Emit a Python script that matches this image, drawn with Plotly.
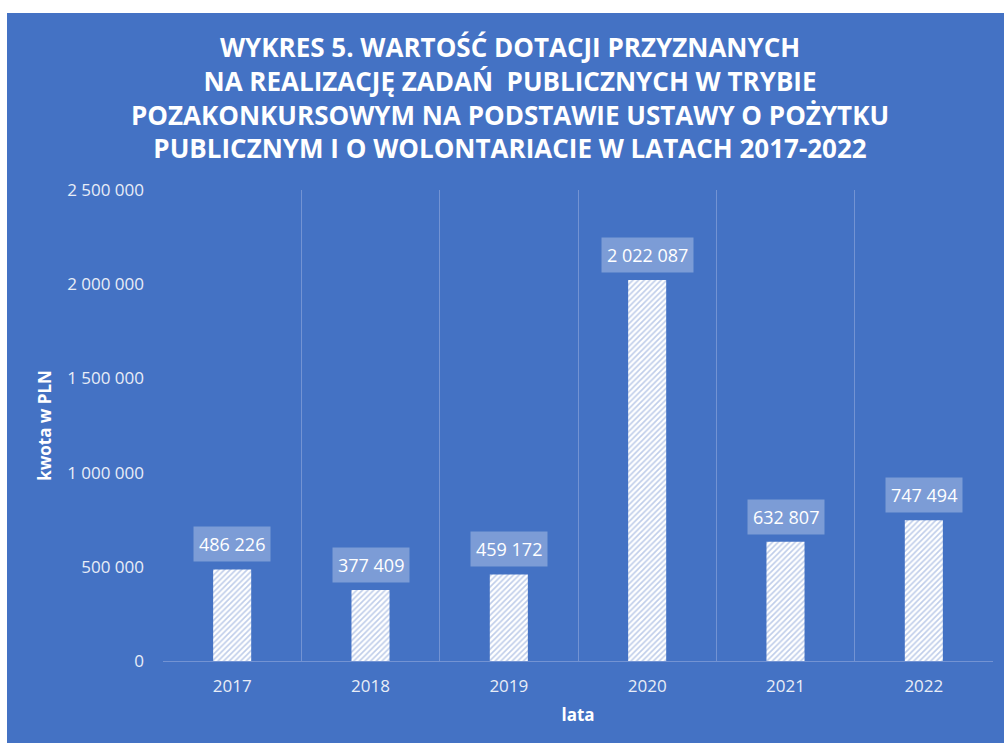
import plotly.graph_objects as go

years = ["2017", "2018", "2019", "2020", "2021", "2022"]
values = [486226, 377409, 459172, 2022087, 632807, 747494]
y_ticks = [0, 500000, 1000000, 1500000, 2000000, 2500000]
title_lines = [
    "WYKRES 5. WARTOŚĆ DOTACJI PRZYZNANYCH",
    "NA REALIZACJĘ ZADAŃ  PUBLICZNYCH W TRYBIE",
    "POZAKONKURSOWYM NA PODSTAWIE USTAWY O POŻYTKU",
    "PUBLICZNYM I O WOLONTARIACIE W LATACH 2017-2022",
]

BLUE = "#4472C4"
GRID = "#7393d3"
FONT = "Open Sans"
W, H = 1004, 743

def fmt(v):
    return f"{v:,}".replace(",", " ")

fig = go.Figure()
fig.add_trace(go.Bar(
    x=years, y=values,
    marker=dict(
        color="white",
        line=dict(width=0),
        pattern=dict(shape="/", bgcolor="white", fgcolor="#7f9bd4", size=4, solidity=0.4),
    ),
    width=0.275,
    hoverinfo="x+y",
))

for i, v in enumerate(values):
    fig.add_annotation(
        x=i, y=v, xref="x", yref="y", text=fmt(v), showarrow=False,
        yanchor="bottom", yshift=7,
        font=dict(family=FONT, size=18, color="white"),
        bgcolor="rgba(255,255,255,0.3)", borderpad=5,
    )

ml, mr, mt, mb = 163, 11, 190, 82
pw, ph = W - ml - mr, H - mt - mb
fig.add_shape(type="rect", xref="paper", yref="paper",
              x0=-(ml - 7) / pw, x1=1 + (mr + 20) / pw,
              y0=-(mb + 20) / ph, y1=1 + (mt - 13) / ph,
              fillcolor=BLUE, line=dict(width=0), layer="below")

fig.update_layout(
    width=W, height=H,
    margin=dict(l=ml, r=mr, t=mt, b=mb),
    paper_bgcolor="white",
    plot_bgcolor="rgba(0,0,0,0)",
    showlegend=False,
    title=dict(
        text="<br>".join(title_lines),
        x=0.508, xref="container", xanchor="center",
        y=1 - 57 / H, yref="container", yanchor="middle",
        font=dict(family=FONT, size=26, color="white", weight="bold"),
    ),
    xaxis=dict(
        type="category",
        range=[-0.5, len(years) - 0.5],
        tickson="boundaries",
        showgrid=True, gridcolor=GRID, gridwidth=1,
        showline=True, linecolor=GRID, linewidth=1,
        ticks="", ticklen=0, ticklabelstandoff=10,
        tickfont=dict(family=FONT, size=17, color="#e8edf7"),
        title=dict(text="lata", font=dict(family=FONT, size=17, color="white", weight="bold"), standoff=12),
    ),
    yaxis=dict(
        range=[0, 2500000],
        tickvals=y_ticks,
        ticktext=[fmt(t) for t in y_ticks],
        showgrid=False, zeroline=False, showline=False,
        ticks="", ticklabelstandoff=18,
        tickfont=dict(family=FONT, size=17, color="#e8edf7"),
        title=dict(text="kwota w PLN", font=dict(family=FONT, size=17, color="white", weight="bold"), standoff=11),
    ),
)

fig.write_html(
    "out.html",
    config={"displayModeBar": False},
    post_script="document.body.style.margin='0';document.body.style.overflow='hidden';",
)
